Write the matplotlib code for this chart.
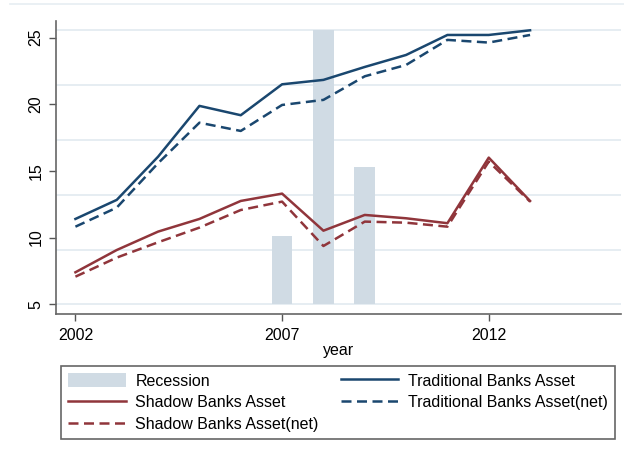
import matplotlib
matplotlib.use("Agg")
import matplotlib.pyplot as plt
from matplotlib.patches import Patch
from matplotlib.lines import Line2D

plt.rcParams['font.family'] = ['Liberation Sans', 'DejaVu Sans']

years = [2002, 2003, 2004, 2005, 2006, 2007, 2008, 2009, 2010, 2011, 2012, 2013]
traditional = [11.4, 12.83, 16.07, 19.88, 19.18, 21.5, 21.83, 22.8, 23.7, 25.2, 25.2, 25.55]
traditional_net = [10.82, 12.25, 15.58, 18.62, 18.0, 19.95, 20.33, 22.1, 22.95, 24.83, 24.63, 25.2]
shadow = [7.4, 9.07, 10.45, 11.4, 12.75, 13.3, 10.52, 11.7, 11.45, 11.08, 16.0, 12.75]
shadow_net = [7.07, 8.5, 9.65, 10.75, 12.07, 12.7, 9.37, 11.2, 11.12, 10.82, 15.7, 12.7]

recession_years = [2007, 2008, 2009]
recession_share = [0.25, 1.0, 0.5]

navy = '#1a476f'
maroon = '#90353b'
bar_color = '#d0dbe4'
grid_color = '#e6edf2'

fig = plt.figure(figsize=(6.24, 4.61), dpi=100)
rect = [56 / 624, 1 - 314 / 461, (621 - 56) / 624, (314 - 20.7) / 461]

# recession bars on their own (hidden) scale, with the grid
ax_rec = fig.add_axes(rect)
ax_rec.bar(recession_years, recession_share, width=0.5, color=bar_color, zorder=2)
ax_rec.set_ylim(-0.035, 1.034)
ax_rec.set_yticks([0, 0.2, 0.4, 0.6, 0.8, 1.0])
ax_rec.grid(axis='y', color=grid_color, linewidth=1.4, zorder=0)
ax_rec.set_axisbelow(True)
ax_rec.tick_params(left=False, labelleft=False, bottom=False, labelbottom=False)
for s in ax_rec.spines.values():
    s.set_visible(False)

# asset series
ax = fig.add_axes(rect, sharex=ax_rec)
ax.patch.set_visible(False)
ax.plot(years, traditional, color=navy, lw=1.8)
ax.plot(years, traditional_net, color=navy, lw=1.8, ls=(0, (4, 2.2)))
ax.plot(years, shadow, color=maroon, lw=1.8)
ax.plot(years, shadow_net, color=maroon, lw=1.8, ls=(0, (4, 2.2)))

ax.set_xlim(2001.53, 2015.2)
ax.set_ylim(4.27, 26.27)
ax.set_xticks([2002, 2007, 2012])
ax.set_yticks([5, 10, 15, 20, 25])
ax.tick_params(axis='both', labelsize=11.5, color='#555555', length=5, width=1)
ax.tick_params(axis='x', pad=5)
ax.tick_params(axis='y', pad=4)
for lab in ax.get_yticklabels():
    lab.set_rotation(90)
    lab.set_va('center')
ax.set_xlabel('year', fontsize=11.5, labelpad=0)
for side in ('top', 'right'):
    ax.spines[side].set_visible(False)
for side in ('left', 'bottom'):
    ax.spines[side].set_color('#666666')
    ax.spines[side].set_linewidth(1.2)

# faint outer frame line at top
fig.add_artist(Line2D([10 / 624, 1], [1 - 4 / 461, 1 - 4 / 461], color=grid_color, lw=1.2))

handles = [
    Patch(facecolor=bar_color, edgecolor='none'),
    Line2D([], [], color=maroon, lw=1.8),
    Line2D([], [], color=maroon, lw=1.8, ls=(0, (4, 2.2))),
    Line2D([], [], color=navy, lw=1.8),
    Line2D([], [], color=navy, lw=1.8, ls=(0, (4, 2.2))),
]
labels = ['Recession', 'Shadow Banks Asset', 'Shadow Banks Asset(net)',
          'Traditional Banks Asset', 'Traditional Banks Asset(net)']
leg = fig.legend(handles, labels, ncol=2, loc='upper left',
                 bbox_to_anchor=(61 / 624, 1 - 439 / 461, (615 - 61) / 624, 73 / 461),
                 mode='expand', fontsize=11.5, frameon=True, fancybox=False,
                 framealpha=1, handlelength=3.6, handleheight=1.0, handletextpad=0.6,
                 labelspacing=0.38, borderpad=0.45, borderaxespad=0)
leg.get_frame().set_edgecolor('#666666')
leg.get_frame().set_linewidth(1.2)

fig.savefig('out.png', dpi=100)
